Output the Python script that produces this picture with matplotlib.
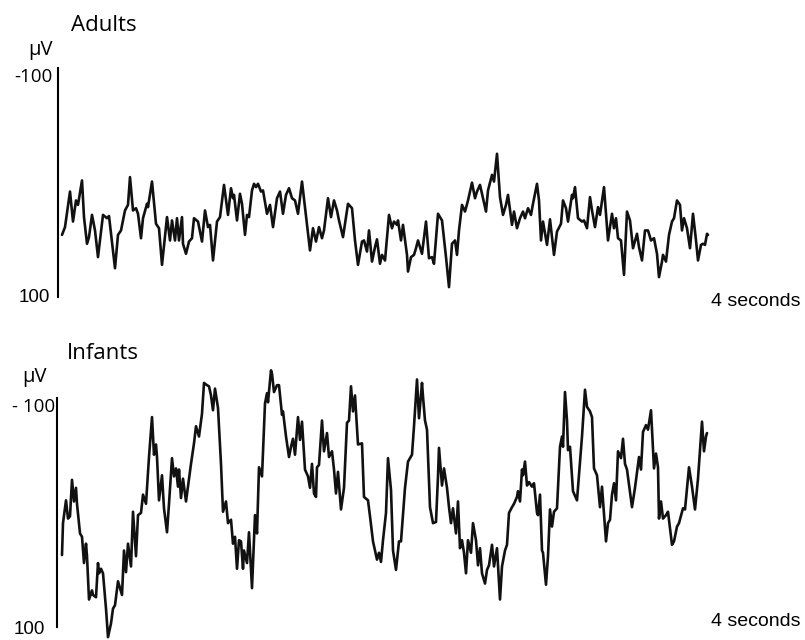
import numpy as np
import matplotlib.pyplot as plt
from matplotlib import rcParams

rcParams['font.family'] = 'sans-serif'
rcParams['font.sans-serif'] = ['Liberation Sans']

FS = 161.5  # samples per second

# adult EEG trace: sample index and amplitude (uV, negative up)
adult_samples = [0, 3, 8, 11, 14, 16, 20, 22, 25, 27,
                 30, 33, 36, 41, 45, 47, 53, 56, 59, 63,
                 66, 68, 71, 74, 76, 79, 81, 85, 86, 90,
                 94, 97, 100, 105, 108, 110, 113, 115, 117, 120,
                 121, 124, 127, 130, 132, 136, 140, 143, 146, 148,
                 151, 155, 158, 162, 166, 169, 171, 172, 175, 178,
                 180, 183, 185, 187, 190, 192, 194, 196, 199, 201,
                 205, 208, 211, 215, 218, 221, 224, 227, 230, 233,
                 236, 240, 243, 248, 251, 254, 257, 260, 262, 266,
                 269, 272, 275, 277, 281, 286, 290, 293, 296, 300,
                 302, 305, 307, 310, 313, 315, 318, 320, 323, 327,
                 330, 332, 335, 336, 339, 341, 345, 346, 349, 352,
                 354, 356, 360, 364, 367, 370, 372, 376, 380, 384,
                 387, 390, 393, 395, 397, 400, 403, 406, 410, 413,
                 415, 418, 421, 424, 426, 430, 432, 435, 438, 441,
                 444, 446, 450, 452, 455, 458, 461, 463, 466, 469,
                 471, 475, 477, 479, 481, 485, 488, 492, 495, 499,
                 501, 504, 506, 510, 511, 513, 516, 520, 522, 525,
                 528, 530, 533, 536, 538, 542, 546, 550, 552, 554,
                 556, 559, 562, 565, 568, 571, 575, 577, 580, 583,
                 586, 589, 592, 595, 597, 600, 601, 604, 607, 610,
                 612, 615, 618, 620, 622, 625, 628, 631, 634, 636,
                 639, 641, 643, 645, 646]
adult_uv = [44, 37, 5, 32, 13, 17, -5, 28, 52, 46,
            26, 40, 64, 26, 29, 27, 74, 44, 40, 22,
            17, -8, 22, 20, 25, 47, 29, 16, 19, -4,
            34, 38, 71, 28, 49, 31, 49, 29, 49, 28,
            52, 61, 50, 47, 29, 32, 50, 22, 37, 35,
            67, 32, 28, -1, 26, 2, 11, 8, 31, 7,
            16, 44, 26, 28, 4, -2, 1, -2, 5, 4,
            25, 17, 37, 11, 5, 25, 8, 2, 11, 13,
            25, -4, 19, 58, 38, 50, 37, 47, 40, 11,
            28, 13, 22, 31, 46, 16, 20, 49, 71, 50,
            49, 59, 40, 68, 55, 48, 70, 62, 67, 26,
            38, 32, 35, 31, 49, 35, 62, 77, 64, 62,
            56, 49, 61, 32, 65, 64, 70, 25, 31, 64,
            91, 52, 49, 62, 40, 17, 23, 13, -3, 11,
            5, -1, 11, 23, 4, -10, -4, -29, 10, 26,
            17, 8, 35, 23, 38, 29, 23, 29, 20, 26,
            16, -2, 13, 49, 32, 53, 30, 62, 41, 34,
            13, 20, 32, 8, 11, 1, 29, 32, 31, 38,
            10, 22, 37, 19, 26, 1, 49, 25, 38, 29,
            47, 49, 80, 23, 31, 56, 43, 55, 67, 40,
            40, 49, 47, 61, 82, 68, 62, 68, 44, 32,
            29, 13, 17, 40, 29, 38, 56, 25, 49, 67,
            53, 52, 53, 43, 44]

# infant EEG trace
infant_samples = [0, 1, 4, 6, 8, 10, 12, 14, 15, 18,
                  20, 22, 24, 25, 27, 30, 31, 34, 36, 37,
                  39, 41, 44, 46, 49, 51, 53, 56, 60, 62,
                  64, 66, 69, 71, 74, 76, 79, 81, 84, 87,
                  90, 92, 94, 95, 97, 100, 102, 105, 107, 110,
                  112, 114, 116, 117, 119, 121, 124, 126, 129, 132,
                  134, 137, 140, 142, 145, 147, 149, 151, 153, 156,
                  159, 161, 164, 166, 169, 171, 173, 175, 177, 179,
                  181, 182, 185, 187, 190, 193, 195, 197, 200, 203,
                  205, 206, 209, 210, 212, 215, 217, 220, 221, 224,
                  227, 229, 231, 233, 236, 238, 240, 243, 246, 248,
                  250, 252, 254, 255, 257, 260, 262, 265, 267, 270,
                  272, 274, 276, 279, 282, 285, 287, 289, 291, 293,
                  296, 300, 302, 306, 308, 311, 315, 317, 319, 321,
                  324, 326, 329, 331, 334, 337, 339, 343, 346, 350,
                  352, 355, 357, 360, 361, 363, 365, 368, 371, 374,
                  376, 377, 380, 382, 385, 387, 389, 391, 394, 396,
                  398, 400, 402, 404, 406, 409, 411, 414, 416, 418,
                  420, 423, 425, 427, 430, 432, 435, 438, 440, 443,
                  445, 447, 450, 452, 455, 456, 458, 460, 461, 463,
                  465, 467, 470, 472, 475, 476, 478, 480, 481, 484,
                  486, 488, 490, 492, 495, 498, 500, 501, 503, 505,
                  506, 508, 511, 515, 520, 523, 525, 528, 530, 532,
                  535, 538, 540, 544, 546, 548, 550, 552, 554, 556,
                  559, 561, 563, 565, 570, 573, 577, 579, 581, 584,
                  586, 589, 592, 594, 596, 597, 599, 601, 604, 606,
                  610, 612, 615, 617, 621, 623, 627, 630, 633, 636,
                  640, 642, 644, 645]
infant_uv = [36, 8, -12, 4, 2, -30, -11, -23, -9, 17,
             20, 43, 26, 37, 75, 67, 71, 73, 43, 52,
             48, 52, 83, 108, 96, 83, 80, 59, 71, 32,
             51, 26, 46, -2, 37, 1, -1, -17, -9, -50,
             -85, -52, -61, -50, -12, -34, -5, 16, -9, -49,
             -33, -40, -24, -39, -14, -31, -11, -24, -44, -62,
             -77, -68, -88, -115, -113, -112, -104, -91, -110, -93,
             -44, -2, -11, 8, 5, 26, 20, 48, 23, 24,
             48, 32, 43, 16, 65, 1, 17, -41, -33, -97,
             -106, -98, -126, -123, -107, -113, -113, -87, -90, -68,
             -50, -59, -66, -52, -85, -65, -81, -39, -33, -23,
             -44, -18, -15, -41, -43, -82, -55, -71, -50, -55,
             -39, -18, -37, -4, -23, -80, -82, -112, -90, -104,
             -61, -62, -15, -12, 2, 24, 40, 34, 42, 23,
             -1, -49, -21, 32, 49, 24, 24, -23, -46, -52,
             -77, -118, -84, -115, -103, -82, -74, -6, 8, 7,
             -33, -58, -25, -40, -23, -6, 8, -5, 17, -11,
             30, 23, 34, 52, 23, 34, 8, 23, 45, 30,
             52, 61, 49, 45, 27, 46, 30, 75, 46, 32,
             27, -1, -6, -9, -15, -20, -11, -39, -34, -46,
             -25, -28, -24, -27, -1, 1, -17, 32, 34, 62,
             37, -4, 11, -2, -5, -59, -68, -59, -107, -82,
             -56, -59, -20, -12, -68, -109, -94, -90, -85, -40,
             -34, -6, -24, 24, 8, 5, -17, -27, -12, -55,
             -49, -66, -44, -39, -6, -23, -50, -39, -72, -78,
             -74, -91, -40, -53, -41, 4, -11, 4, 1, -2,
             27, 24, 11, 8, -5, -4, -41, -24, -4, -31,
             -81, -55, -68, -71]

W, H = 805, 640
fig = plt.figure(figsize=(W / 100., H / 100.), dpi=100)


def px_axes(left, top, right, bottom):
    return fig.add_axes([left / W, 1 - bottom / H,
                         (right - left) / W, (bottom - top) / H])


def px_text(x, y, s, **kw):
    fig.text(x / W, 1 - y / H, s, **kw)


panels = [
    # samples, values, axes box (px), first sample offset, ylim, bar span
    (adult_samples, adult_uv, (58, 60, 710, 300), -4, (102.6, -113.4), (-106, 100)),
    (infant_samples, infant_uv, (57, 365, 710, 640), -5, (110.5, -130.7), (-102, 99)),
]

for samples, values, box, x0, ylim, bar in panels:
    ax = px_axes(*box)
    t = np.array(samples) / FS
    ax.plot(t, values, color='#111111', linewidth=1.9,
            solid_joinstyle='round', solid_capstyle='round', clip_on=False)
    ax.set_xlim(x0 / FS, 648 / FS)
    ax.set_ylim(*ylim)
    for side in ['top', 'right', 'bottom']:
        ax.spines[side].set_visible(False)
    ax.spines['left'].set_linewidth(1.5)
    ax.spines['left'].set_bounds(*bar)
    ax.set_xticks([])
    ax.set_yticks([])
    ax.patch.set_alpha(0)

seg = dict(fontfamily='Open Sans', color='black')
ari = dict(fontfamily='Liberation Sans', color='black')

px_text(71, 31, 'Adults', fontsize=16, va='baseline', **seg)
px_text(28, 55, 'µV', fontsize=14.5, va='baseline', **seg)
px_text(52, 77, '-100', fontsize=13.5, ha='right', va='center', **seg)
px_text(50, 298, '100', fontsize=13.5, ha='right', va='center', **ari)
px_text(711, 301, '4 seconds', fontsize=14, va='center', **ari)

px_text(67, 359, 'Infants', fontsize=16, va='baseline', **seg)
px_text(22, 382, 'µV', fontsize=14.5, va='baseline', **seg)
px_text(55, 407, '- 100', fontsize=13.5, ha='right', va='center', **seg)
px_text(45, 629, '100', fontsize=13.5, ha='right', va='center', **ari)
px_text(711, 622, '4 seconds', fontsize=14, va='center', **ari)

fig.savefig('out.png', dpi=100)
